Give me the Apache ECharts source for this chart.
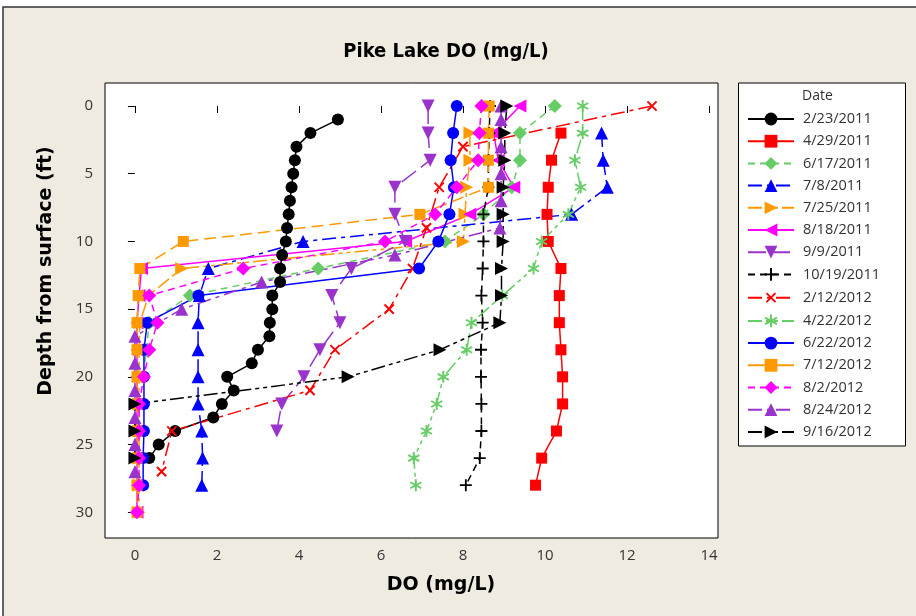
<!DOCTYPE html>
<html>
<head>
<meta charset="utf-8">
<script src="https://cdn.jsdelivr.net/npm/echarts@6/dist/echarts.min.js"></script>
<style>
html,body{margin:0;padding:0;background:#fff;}
#Chart{width:916px;height:616px;}
</style>
</head>
<body>
<div id="Chart"></div>
<script>
//刻度
var xTicks=[0,2,4,6,8,10,12,14]
var yTicks=[0,5,10,15,20,25,30]

//日期
var dates=['2/23/2011','4/29/2011','6/17/2011','7/8/2011','7/25/2011','8/18/2011','9/9/2011','10/19/2011',
	'2/12/2012','4/22/2012','6/22/2012','7/12/2012','8/2/2012','8/24/2012','9/16/2012']

//深度 (ft)
var depth_0223=[1,2,3,4,5,6,7,8,9,10,11,12,13,14,15,16,17,18,19,20,21,22,23,24,25,26]
var depth_0429=[2,4,6,8,10,12,14,16,18,20,22,24,26,28]
var depth_0617=[0,2,4,6,8,10,12,14,16,18,20]
var depth_0708=[2,4,6,8,10,12,14,16,18,20,22,24,26,28]
var depth_0725=[2,4,6,8,10,12,14,16,18,20,22,24,26,28,30]
var depth_0818=[0,2,4,6,8,10,12,14,16,18,20,22,24,26,28,30]
var depth_0909=[0,2,4,6,8,10,12,14,16,18,20,22,24]
var depth_1019=[0,2,4,6,8,10,12,14,16,18,20,22,24,26,28]
var depth_0212=[0,3,6,9,12,15,18,21,24,27]
var depth_0422=[0,2,4,6,8,10,12,14,16,18,20,22,24,26,28]
var depth_0622=[0,2,4,6,8,10,12,14,16,18,20,22,24,26,28]
var depth_0712=[0,2,4,6,8,10,12,14,16,18,20,22,24,26,28,30]
var depth_0802=[0,2,4,6,8,10,12,14,16,18,20,22,24,26,28,30]
var depth_0824=[0,1,3,5,7,9,11,13,15,17,19,21,23,25,27]
var depth_0916=[0,2,4,6,8,10,12,14,16,18,20,22,24,26]

//溶解氧 DO (mg/L)
var do_0223=[4.95,4.28,3.94,3.9,3.86,3.82,3.78,3.75,3.71,3.68,3.59,3.54,3.54,3.35,3.35,3.29,3.28,3.0,2.85,2.25,2.41,2.12,1.91,0.98,0.58,0.35]
var do_0429=[10.39,10.16,10.08,10.05,10.08,10.39,10.35,10.35,10.39,10.43,10.43,10.28,9.92,9.77]
var do_0617=[10.24,9.39,9.39,9.19,8.5,7.56,4.47,1.34,0.35,0.28,0.2]
var do_0708=[11.38,11.42,11.52,10.65,4.1,1.79,1.57,1.54,1.54,1.54,1.54,1.63,1.65,1.63]
var do_0725=[8.17,8.17,8.09,8.05,8.01,1.14,0.33,0.12,0.1,0.1,0.1,0.1,0.1,0.1,0.1]
var do_0818=[9.39,8.75,8.86,9.24,8.17,6.6,0.16,0.1,0.05,0.05,0.05,0.05,0.05,0.05,0.05,0.05]
var do_0909=[7.15,7.15,7.2,6.34,6.34,6.59,5.28,4.8,5.0,4.51,4.12,3.58,3.46]
var do_1019=[8.66,8.64,8.62,8.62,8.5,8.5,8.48,8.45,8.48,8.44,8.44,8.45,8.45,8.41,8.07]
var do_0212=[12.61,8.0,7.42,7.11,6.77,6.2,4.88,4.27,0.9,0.65]
var do_0422=[10.92,10.92,10.73,10.87,10.57,9.92,9.72,8.96,8.21,8.09,7.52,7.36,7.11,6.8,6.85]
var do_0622=[7.85,7.76,7.7,7.78,7.67,7.4,6.93,1.55,0.3,0.22,0.22,0.22,0.22,0.2,0.2]
var do_0712=[8.64,8.62,8.62,8.62,6.95,1.18,0.12,0.08,0.05,0.05,0.05,0.05,0.05,0.05,0.05,0.05]
var do_0802=[8.45,8.4,8.37,7.85,7.32,6.1,2.64,0.35,0.55,0.35,0.22,0.1,0.1,0.1,0.1,0.05]
var do_0824=[8.93,8.93,8.93,8.93,8.93,8.9,6.34,3.09,1.14,0,0,0,0,0,0]
var do_0916=[9.07,9.02,9.02,8.98,8.98,8.98,8.94,8.94,8.9,7.44,5.2,0,0,0]

//线型
var dashShort=[7,5]
var dashLongShort=[14,5,4,5]
var dashLongShort2=[14,4,4,4,4,4]
var dashLong=[18,6]
var dashMid=[12,6]

//标记: 十字 / 星号
function barsPath(angles){
	var p='path://'
	for(var i=0;i<angles.length;i++){
		var a=angles[i]*Math.PI/180
		var dx=Math.sin(a),dy=-Math.cos(a),px=-dy,py=dx
		var L=5,W=0.75
		var pts=[[5+L*dx+W*px,5+L*dy+W*py],[5+L*dx-W*px,5+L*dy-W*py],[5-L*dx-W*px,5-L*dy-W*py],[5-L*dx+W*px,5-L*dy+W*py]]
		p+='M'+pts[0][0].toFixed(2)+','+pts[0][1].toFixed(2)
		for(var j=1;j<4;j++) p+='L'+pts[j][0].toFixed(2)+','+pts[j][1].toFixed(2)
		p+='Z'
	}
	return p
}
var plusSymbol=barsPath([0,90])
var starSymbol=barsPath([0,60,120])

function pairs(v,d){
	var out=[]
	for(var i=0;i<v.length;i++) out.push([v[i],d[i]])
	return out
}

function makeSeries(name,v,d,color,dash,symbol,size,rotate){
	return {
		name:name,
		type:'line',
		data:pairs(v,d),
		symbol:symbol,
		symbolSize:size,
		symbolRotate:rotate||0,
		showAllSymbol:true,
		animation:false,
		lineStyle:{color:color,width:1.5,type:dash},
		itemStyle:{color:color,borderWidth:0}
	}
}

var series=[
	makeSeries(dates[0],do_0223,depth_0223,'#000000','solid','circle',12),
	makeSeries(dates[1],do_0429,depth_0429,'#ff0000','solid','rect',11),
	makeSeries(dates[2],do_0617,depth_0617,'#66cc66',dashShort,'diamond',14),
	makeSeries(dates[3],do_0708,depth_0708,'#0000ff',dashLongShort,'triangle',13),
	makeSeries(dates[4],do_0725,depth_0725,'#ff9900',dashLongShort2,'triangle',13,-90),
	makeSeries(dates[5],do_0818,depth_0818,'#ff00ff','solid','triangle',13,90),
	makeSeries(dates[6],do_0909,depth_0909,'#9933cc',dashLong,'triangle',13,180),
	makeSeries(dates[7],do_1019,depth_1019,'#000000',dashShort,plusSymbol,12),
	makeSeries(dates[8],do_0212,depth_0212,'#ff0000',dashLongShort,plusSymbol,13,45),
	makeSeries(dates[9],do_0422,depth_0422,'#66cc66',dashLongShort2,starSymbol,12),
	makeSeries(dates[10],do_0622,depth_0622,'#0000ff','solid','circle',12),
	makeSeries(dates[11],do_0712,depth_0712,'#ff9900',dashMid,'rect',11),
	makeSeries(dates[12],do_0802,depth_0802,'#ff00ff',dashShort,'diamond',14),
	makeSeries(dates[13],do_0824,depth_0824,'#9933cc',dashLongShort,'triangle',13),
	makeSeries(dates[14],do_0916,depth_0916,'#000000',dashLongShort2,'triangle',13,-90)
]

//图例
var legendData=[]
for(var i=0;i<dates.length;i++){
	if(i==11) legendData.push({name:dates[i],lineStyle:{type:'solid'}})
	else legendData.push({name:dates[i]})
}

var labelFont={color:'#333',fontSize:15,fontFamily:'Open Sans'}

var myChart=echarts.init(document.getElementById('Chart'),null,{renderer:'canvas'})
var option={
	animation:false,
	backgroundColor:'#ffffff',
	graphic:[
		{type:'rect',z:-10,shape:{x:3,y:7,width:1000,height:1000},style:{fill:'#efebe1',stroke:'#333',lineWidth:1.5}},
		{type:'rect',z:-5,shape:{x:738.5,y:83,width:167,height:363},style:{fill:'#ffffff',stroke:'#000',lineWidth:1}},
		{type:'text',left:802,top:89,style:{text:'Date',fill:'#333',font:'14px "Open Sans"'}},
		//坐标轴标题
		{type:'text',x:441,y:585,style:{text:'DO (mg/L)',fill:'#000',font:'bold 19px "DejaVu Sans"',align:'center',verticalAlign:'middle'}},
		{type:'text',x:46,y:271,rotation:Math.PI/2,style:{text:'Depth from surface (ft)',fill:'#000',font:'bold 19px "DejaVu Sans"',align:'center',verticalAlign:'middle'}}
	],
	title:{
		text:'Pike Lake DO (mg/L)',
		left:441,
		top:37,
		textAlign:'center',
		textStyle:{fontSize:20,fontWeight:'bold',color:'#000',fontFamily:'DejaVu Sans Condensed'}
	},
	grid:{
		left:105,top:83,width:613,height:455,
		show:true,backgroundColor:'#ffffff',borderColor:'#000',borderWidth:1
	},
	xAxis:{
		type:'value',min:-0.73,max:14.22,
		axisLine:{show:false},
		splitLine:{show:false},
		axisTick:{show:true,length:7,customValues:xTicks,lineStyle:{color:'#000'}},
		axisLabel:Object.assign({customValues:xTicks,margin:10},labelFont)
	},
	yAxis:{
		type:'value',inverse:true,min:-1.7,max:31.9,
		axisLine:{show:false},
		splitLine:{show:false},
		axisTick:{show:true,length:7,customValues:yTicks,lineStyle:{color:'#000'}},
		axisLabel:Object.assign({customValues:yTicks,margin:12},labelFont)
	},
	legend:{
		orient:'vertical',
		left:747,top:111,
		padding:0,
		itemWidth:46,itemHeight:16,itemGap:6.2,
		data:legendData,
		textStyle:{color:'#333',fontSize:14.5,fontFamily:'Open Sans',lineHeight:16,padding:[0,0,0,4]}
	},
	series:series
}
myChart.setOption(option)
</script>
</body>
</html>
